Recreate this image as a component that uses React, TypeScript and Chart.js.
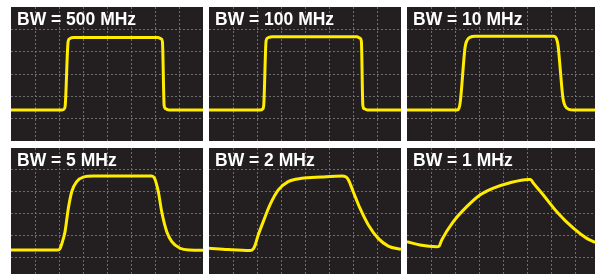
import React, { useEffect, useRef } from 'react';
import { Chart, registerables } from 'chart.js';

Chart.register(...registerables);

// Panel titles (bandwidth of the scope)
const panelLabels = ['BW = 500 MHz', 'BW = 100 MHz', 'BW = 10 MHz', 'BW = 5 MHz', 'BW = 2 MHz', 'BW = 1 MHz'];

// Trace samples in screen divisions (x: horizontal divisions, y: vertical divisions)
const bw500X = [0, 2.12, 2.22, 2.26, 2.38, 2.44, 2.6, 6.12, 6.26, 6.31, 6.38, 6.43, 6.58, 8];
const bw500Y = [1.39, 1.39, 1.44, 1.6, 4.45, 4.58, 4.63, 4.63, 4.57, 4.45, 1.6, 1.45, 1.39, 1.39];

const bw100X = [0, 2.14, 2.24, 2.28, 2.38, 2.45, 2.62, 6.16, 6.3, 6.35, 6.41, 6.46, 6.6, 8];
const bw100Y = [1.39, 1.39, 1.44, 1.6, 4.5, 4.62, 4.67, 4.67, 4.6, 4.45, 1.6, 1.45, 1.39, 1.39];

const bw10X = [0, 2.08, 2.16, 2.22, 2.42, 2.5, 2.62, 2.85, 6.12, 6.22, 6.29, 6.5, 6.6, 6.75, 6.95, 7.84];
const bw10Y = [1.39, 1.39, 1.45, 1.75, 4.2, 4.5, 4.64, 4.69, 4.69, 4.6, 4.3, 1.9, 1.55, 1.42, 1.39, 1.39];

const bw5X = [0, 1.95, 2.04, 2.11, 2.25, 2.39, 2.53, 2.74, 3.01, 3.43, 5.86, 5.97, 6.06, 6.14, 6.28, 6.49, 6.7, 7.04, 7.46, 8];
const bw5Y = [1.34, 1.34, 1.4, 1.6, 2.17, 3.24, 3.99, 4.45, 4.65, 4.7, 4.7, 4.62, 4.35, 3.99, 3.08, 2.17, 1.72, 1.42, 1.34, 1.33];

const bw2X = [0, 0.8, 1.71, 1.84, 1.92, 2.05, 2.26, 2.54, 2.89, 3.3, 3.86, 4.7, 5.55, 5.68, 5.8, 6.01, 6.29, 6.64, 7.05, 7.47, 8];
const bw2Y = [1.42, 1.36, 1.32, 1.38, 1.55, 2.02, 2.63, 3.39, 4.07, 4.45, 4.6, 4.66, 4.7, 4.68, 4.55, 3.99, 3.24, 2.48, 1.87, 1.52, 1.37];

const bw1X = [0, 0.54, 1.24, 1.34, 1.45, 1.93, 2.49, 3.04, 3.6, 4.29, 5.05, 5.15, 5.25, 5.68, 6.24, 6.93, 7.49, 7.84];
const bw1Y = [1.72, 1.57, 1.49, 1.52, 1.8, 2.63, 3.31, 3.84, 4.15, 4.4, 4.55, 4.55, 4.4, 3.84, 3.08, 2.33, 1.87, 1.69];

const seriesX = [bw500X, bw100X, bw10X, bw5X, bw2X, bw1X];
const seriesY = [bw500Y, bw100Y, bw10Y, bw5Y, bw2Y, bw1Y];

// Layout
const COL_LEFT = [11, 209, 407];
const COL_WIDTH = [192, 192, 188];
const ROW_TOP = [7, 148];
const ROW_HEIGHT = [134, 126];
const ROW_YRANGE = [
  [0, 6],
  [0.25, 5.977],
];
const PX_PER_XDIV = 24;

const BG = '#231f20';
const GRID = '#6f6c6c';
const TRACE = '#ffec00';

function innerIntegerTicks(min: number, max: number) {
  const out: { value: number }[] = [];
  for (let v = Math.floor(min) + 1; v < max - 0.01; v++) {
    if (v > min + 0.01) out.push({ value: v });
  }
  return out;
}

type PanelProps = {
  left: number;
  top: number;
  width: number;
  height: number;
  label: string;
  xs: number[];
  ys: number[];
  yMin: number;
  yMax: number;
};

function Panel({ left, top, width, height, label, xs, ys, yMin, yMax }: PanelProps) {
  const ref = useRef<HTMLCanvasElement | null>(null);
  useEffect(() => {
    if (!ref.current) return;
    const xMax = width / PX_PER_XDIV;
    const gridOpts = { color: GRID, lineWidth: 1, drawTicks: false };
    const borderOpts = { display: false, dash: [2, 2] };
    const chart = new Chart(ref.current, {
      type: 'line',
      data: {
        datasets: [
          {
            data: xs.map((x, i) => ({ x, y: ys[i] })),
            borderColor: TRACE,
            borderWidth: 3,
            pointRadius: 0,
            cubicInterpolationMode: 'monotone',
            fill: false,
          },
        ],
      },
      options: {
        animation: false,
        responsive: false,
        devicePixelRatio: 1,
        events: [],
        layout: { padding: 0, autoPadding: false },
        plugins: { legend: { display: false }, tooltip: { enabled: false }, title: { display: false } },
        scales: {
          x: {
            type: 'linear',
            min: 0,
            max: xMax,
            ticks: { display: false },
            afterBuildTicks: (axis: any) => {
              axis.ticks = innerIntegerTicks(0, xMax);
            },
            grid: gridOpts,
            border: borderOpts,
          },
          y: {
            type: 'linear',
            min: yMin,
            max: yMax,
            ticks: { display: false },
            afterBuildTicks: (axis: any) => {
              axis.ticks = innerIntegerTicks(yMin, yMax);
            },
            grid: gridOpts,
            border: borderOpts,
          },
        },
      } as any,
    });
    return () => chart.destroy();
  }, []);
  return (
    <div style={{ position: 'absolute', left, top, width, height, background: BG, overflow: 'hidden' }}>
      <canvas ref={ref} width={width} height={height} style={{ display: 'block', width, height }} />
      <div
        style={{
          position: 'absolute',
          left: 6,
          top: 4,
          color: '#ffffff',
          fontFamily: '"Liberation Sans", Arial, sans-serif',
          fontWeight: 'bold',
          fontSize: '17.5px',
          lineHeight: 1,
          whiteSpace: 'nowrap',
        }}
      >
        {label}
      </div>
    </div>
  );
}

export default function App() {
  const panels = [];
  for (let r = 0; r < 2; r++) {
    for (let c = 0; c < 3; c++) {
      const i = r * 3 + c;
      panels.push(
        <Panel
          key={i}
          left={COL_LEFT[c]}
          top={ROW_TOP[r]}
          width={COL_WIDTH[c]}
          height={ROW_HEIGHT[r]}
          label={panelLabels[i]}
          xs={seriesX[i]}
          ys={seriesY[i]}
          yMin={ROW_YRANGE[r][0]}
          yMax={ROW_YRANGE[r][1]}
        />
      );
    }
  }
  return (
    <div style={{ position: 'absolute', left: 0, top: 0, width: 595, height: 274, background: '#ffffff', overflow: 'hidden' }}>
      {panels}
    </div>
  );
}
